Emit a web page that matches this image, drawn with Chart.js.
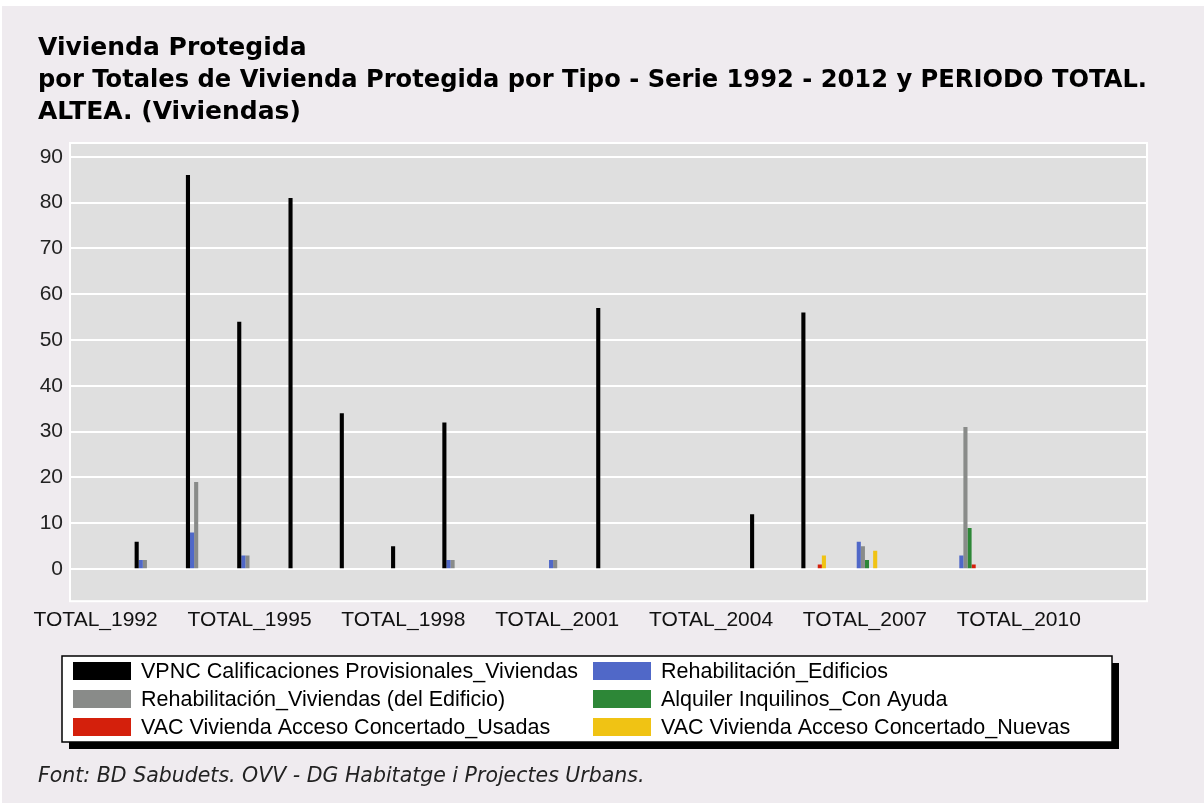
<!DOCTYPE html>
<html lang="es">
<head>
  <meta charset="UTF-8">
  <title>Vivienda Protegida - Altea</title>
  <script src="https://cdn.jsdelivr.net/npm/chart.js"></script>
  <style>
    html, body { margin: 0; padding: 0; background: #ffffff; }
    #chart { display: block; }
  </style>
</head>
<body>
  <canvas id="chart" width="1204" height="803"></canvas>

  <script>
    // categories (1992 - 2012)
    const years = ['TOTAL_1992', 'TOTAL_1993', 'TOTAL_1994', 'TOTAL_1995', 'TOTAL_1996', 'TOTAL_1997',
      'TOTAL_1998', 'TOTAL_1999', 'TOTAL_2000', 'TOTAL_2001', 'TOTAL_2002', 'TOTAL_2003', 'TOTAL_2004',
      'TOTAL_2005', 'TOTAL_2006', 'TOTAL_2007', 'TOTAL_2008', 'TOTAL_2009', 'TOTAL_2010', 'TOTAL_2011',
      'TOTAL_2012'];

    // series values (viviendas)
    const vpnc       = [0, 6, 86, 54, 81, 34, 5, 32, 0, 0, 57, 0, 0, 12, 56, 0, 0, 0, 0, 0, 0];
    const rehabEdif  = [0, 2, 8, 3, 0, 0, 0, 2, 0, 2, 0, 0, 0, 0, 0, 6, 0, 3, 0, 0, 0];
    const rehabViv   = [0, 2, 19, 3, 0, 0, 0, 2, 0, 2, 0, 0, 0, 0, 0, 5, 0, 31, 0, 0, 0];
    const alquiler   = [0, 0, 0, 0, 0, 0, 0, 0, 0, 0, 0, 0, 0, 0, 0, 2, 0, 9, 0, 0, 0];
    const vacUsadas  = [0, 0, 0, 0, 0, 0, 0, 0, 0, 0, 0, 0, 0, 0, 1, 0, 0, 1, 0, 0, 0];
    const vacNuevas  = [0, 0, 0, 0, 0, 0, 0, 0, 0, 0, 0, 0, 0, 0, 3, 4, 0, 0, 0, 0, 0];

    // tick labels for the value axis
    const yTicks = [0, 10, 20, 30, 40, 50, 60, 70, 80, 90];

    const titleLines = [
      'Vivienda Protegida',
      'por Totales de Vivienda Protegida por Tipo - Serie 1992 - 2012 y PERIODO TOTAL.',
      'ALTEA. (Viviendas)'
    ];
    const sourceNote = 'Font: BD Sabudets. OVV - DG Habitatge i Projectes Urbans.';

    Chart.defaults.font.family = "'Liberation Sans', Arial, sans-serif";
    Chart.defaults.color = '#111';

    // page + plot background, white frame round the plot
    const backdrop = {
      id: 'backdrop',
      beforeDraw(chart) {
        const ctx = chart.ctx;
        const a = chart.chartArea;
        ctx.save();
        ctx.fillStyle = '#ffffff';
        ctx.fillRect(0, 0, chart.width, chart.height);
        ctx.fillStyle = '#efebef';
        ctx.fillRect(2, 6, chart.width - 2, chart.height - 6);
        ctx.fillStyle = '#dfdfdf';
        ctx.fillRect(a.left, a.top, a.right - a.left, a.bottom - a.top);
        ctx.strokeStyle = '#ffffff';
        ctx.lineWidth = 2;
        ctx.strokeRect(a.left, a.top, a.right - a.left, a.bottom - a.top);
        ctx.restore();
      }
    };

    // boxed legend in two columns, with a drop shadow
    const boxLegend = {
      id: 'boxLegend',
      afterDraw(chart) {
        const ctx = chart.ctx;
        const x = 62, y = 656, w = 1050, h = 86;
        ctx.save();
        ctx.fillStyle = '#000';
        ctx.fillRect(x + 7, y + 7, w, h);
        ctx.fillStyle = '#fff';
        ctx.fillRect(x, y, w, h);
        ctx.strokeStyle = '#000';
        ctx.lineWidth = 1.5;
        ctx.strokeRect(x, y, w, h);
        ctx.font = "21.5px 'Liberation Sans', Arial, sans-serif";
        ctx.textBaseline = 'middle';
        chart.data.datasets.forEach((ds, i) => {
          const col = i % 2, row = Math.floor(i / 2);
          const sx = col === 0 ? 73 : 593;
          const sy = y + 6 + row * 28;
          ctx.fillStyle = ds.backgroundColor;
          ctx.fillRect(sx, sy, 58, 18);
          ctx.fillStyle = '#000';
          ctx.fillText(ds.label, sx + 68, sy + 10);
        });
        ctx.restore();
      }
    };

    new Chart(document.getElementById('chart'), {
      type: 'bar',
      data: {
        labels: years,
        datasets: [
          { label: 'VPNC Calificaciones Provisionales_Viviendas', data: vpnc, backgroundColor: '#000000' },
          { label: 'Rehabilitación_Edificios', data: rehabEdif, backgroundColor: '#5068c8' },
          { label: 'Rehabilitación_Viviendas (del Edificio)', data: rehabViv, backgroundColor: '#898b89' },
          { label: 'Alquiler Inquilinos_Con Ayuda', data: alquiler, backgroundColor: '#2d8737' },
          { label: 'VAC Vivienda Acceso Concertado_Usadas', data: vacUsadas, backgroundColor: '#d4200c' },
          { label: 'VAC Vivienda Acceso Concertado_Nuevas', data: vacNuevas, backgroundColor: '#f0c314' }
        ]
      },
      options: {
        responsive: false,
        animation: false,
        layout: { padding: { left: 38, right: 57, top: 0, bottom: 12 } },
        datasets: {
          bar: { categoryPercentage: 0.48, barPercentage: 1.0, borderWidth: 0 }
        },
        scales: {
          x: {
            grid: { display: false },
            border: { display: false },
            ticks: {
              autoSkip: false,
              maxRotation: 0,
              minRotation: 0,
              padding: -2,
              color: '#111',
              font: { size: 21 },
              callback: (v, i) => (i % 3 === 0 ? years[i] : '')
            }
          },
          y: {
            min: -7,
            max: 93,
            afterBuildTicks: (scale) => { scale.ticks = yTicks.map(v => ({ value: v })); },
            afterFit: (scale) => { scale.width = 32; },
            grid: { color: '#ffffff', lineWidth: 2, drawTicks: false },
            border: { display: false },
            ticks: { padding: 7, color: '#222', font: { size: 21 } }
          }
        },
        plugins: {
          legend: { display: false },
          tooltip: { enabled: false },
          title: {
            display: true,
            align: 'start',
            text: titleLines,
            color: '#000',
            font: { family: "'DejaVu Sans', Verdana, sans-serif", size: 25, weight: 'bold', lineHeight: 1.28 },
            padding: { top: 32, bottom: 15 }
          },
          subtitle: {
            display: true,
            position: 'bottom',
            align: 'start',
            text: sourceNote,
            color: '#222',
            font: { family: "'DejaVu Sans', Verdana, sans-serif", size: 20.5, style: 'italic', lineHeight: 1.2 },
            padding: { top: 134, bottom: 2 }
          }
        }
      },
      plugins: [backdrop, boxLegend]
    });
  </script>
</body>
</html>
